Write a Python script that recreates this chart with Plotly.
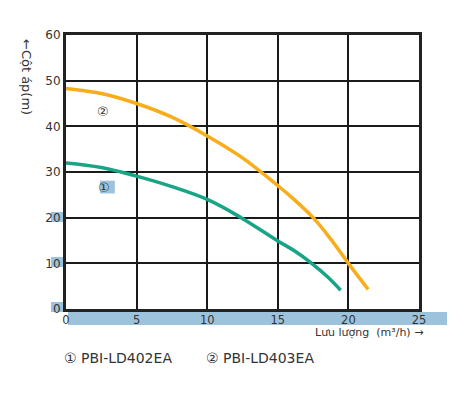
import plotly.graph_objects as go

# flow (m3/h) and head (m)
flow_402 = [0, 2.5, 5, 7.5, 10, 12.4, 15, 16.2, 17.4, 18.5, 19.45]
head_402 = [32.0, 31.0, 29.1, 26.8, 24.0, 20.0, 14.9, 12.7, 10.0, 7.1, 4.1]
flow_403 = [0, 2.5, 5, 7.5, 10, 12.5, 15, 16, 17.5, 18.75, 20, 21.4]
head_403 = [48.3, 47.2, 45.0, 42.0, 37.9, 33.1, 27.0, 24.4, 20.0, 15.3, 10.0, 4.3]

x_ticks = [0, 5, 10, 15, 20, 25]
y_ticks = [0, 10, 20, 30, 40, 50, 60]
names = ["① PBI-LD402EA", "② PBI-LD403EA"]

ORANGE = "#F9AD1A"
GREEN = "#17A585"
BLUE = "#9dc3dc"
TXT = "#333333"
FONT = "DejaVu Sans"

OFF = 8  # page body margin
W, H = 471 - OFF, 398 - OFF
L, T = 66 - OFF, 35 - OFF
R = W - (448 - OFF)
B = H - (309 - OFF)
pw = W - L - R
ph = H - T - B

def px(xp):
    return (xp - OFF - L) / pw

def py(yp):
    return (T + ph - (yp - OFF)) / ph

fig = go.Figure()
fig.add_trace(go.Scatter(x=flow_403, y=head_403, mode="lines",
                         line=dict(color=ORANGE, width=3.5, shape="spline",
                                   smoothing=1.1),
                         showlegend=False, hoverinfo="skip"))
fig.add_trace(go.Scatter(x=flow_402, y=head_402, mode="lines",
                         line=dict(color=GREEN, width=3.5, shape="spline",
                                   smoothing=1.1),
                         showlegend=False, hoverinfo="skip"))
# invisible trace to carry secondary x axis labels
fig.add_trace(go.Scatter(x=[x_ticks[0], x_ticks[-1]], y=[0, 0], xaxis="x2",
                         mode="markers", marker=dict(opacity=0),
                         showlegend=False, hoverinfo="skip"))

fig.update_layout(
    width=W, height=H,
    margin=dict(l=L, r=R, t=T, b=B, autoexpand=False),
    paper_bgcolor="white", plot_bgcolor="white",
    font=dict(family=FONT, color=TXT),
    xaxis=dict(domain=[0, px(419)], range=[0, 25], tickvals=x_ticks,
               showticklabels=False, showgrid=True, gridcolor="#1a1a1a",
               gridwidth=1.5, showline=True, linecolor="#222222",
               linewidth=3, mirror=True, zeroline=False, ticks="",
               automargin=False),
    xaxis2=dict(domain=[px(69), px(437)], range=[0, 25], tickvals=x_ticks,
                ticktext=[str(v) for v in x_ticks], anchor="free",
                position=0, overlaying="x", showgrid=False, showline=False,
                zeroline=False, ticks="", automargin=False,
                ticklabelstandoff=2,
                tickfont=dict(size=11.5, color=TXT)),
    yaxis=dict(range=[0, 60], tickvals=y_ticks,
               ticktext=[str(v) for v in y_ticks],
               showgrid=True, gridcolor="#1a1a1a", gridwidth=1.5,
               showline=True, linecolor="#222222", linewidth=3, mirror=True,
               zeroline=False, ticks="", automargin=False,
               tickfont=dict(size=12, color=TXT)),
)

shapes = [
    # blue band under x axis
    dict(type="rect", xref="paper", yref="paper", x0=px(68), x1=px(447),
         y0=py(325), y1=py(312), fillcolor=BLUE, line=dict(width=0),
         layer="below"),
    # patches behind y labels
    dict(type="rect", xref="paper", yref="paper", x0=px(51), x1=px(63),
         y0=py(312), y1=py(302), fillcolor=BLUE, line=dict(width=0), layer="below"),
    dict(type="rect", xref="paper", yref="paper", x0=px(51), x1=px(64),
         y0=py(267), y1=py(257), fillcolor=BLUE, line=dict(width=0), layer="below"),
    dict(type="rect", xref="paper", yref="paper", x0=px(51), x1=px(64),
         y0=py(222), y1=py(212), fillcolor=BLUE, line=dict(width=0), layer="below"),
    # patch behind ①
    dict(type="rect", xref="x", yref="y", x0=2.4, x1=3.46, y0=25.3, y1=28.1,
         fillcolor=BLUE, line=dict(width=0), layer="above"),
]
fig.update_layout(shapes=shapes)

ann = [
    dict(x=2.61, y=43.3, xref="x", yref="y", text="②", showarrow=False,
         font=dict(size=13, color=TXT)),
    dict(x=2.68, y=26.6, xref="x", yref="y", text="①", showarrow=False,
         font=dict(size=13, color=TXT)),
    dict(x=px(27), y=py(77), xref="paper", yref="paper", text="←Cột áp(m)",
         textangle=90, showarrow=False, xanchor="center", yanchor="middle",
         font=dict(size=13, color=TXT)),
    dict(x=px(369), y=py(333), xref="paper", yref="paper",
         text="Lưu lượng  (m³/h) →", showarrow=False, xanchor="center",
         yanchor="middle", font=dict(size=11, color=TXT)),
    dict(x=px(62), y=py(358), xref="paper", yref="paper", xanchor="left",
         yanchor="middle", text=names[0], showarrow=False,
         font=dict(size=14, color=TXT)),
    dict(x=px(204), y=py(358), xref="paper", yref="paper", xanchor="left",
         yanchor="middle", text=names[1], showarrow=False,
         font=dict(size=14, color=TXT)),
]
fig.update_layout(annotations=ann)

fig.write_html("out.html")
